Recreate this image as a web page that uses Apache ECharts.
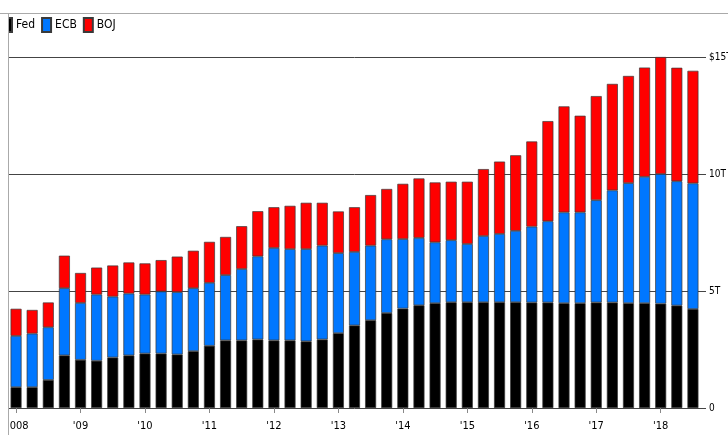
<!DOCTYPE html>
<html>
<head>
<meta charset="utf-8">
<script src="https://cdn.jsdelivr.net/npm/echarts@6/dist/echarts.min.js"></script>
<style>
html,body{margin:0;padding:0;background:#fff;}
#chart{width:728px;height:435px;}
</style>
</head>
<body>
<div id="chart"></div>
<script>
// Quarterly central-bank balance sheets, trillions of dollars
const categories = [
  '2008 Q1','2008 Q2','2008 Q3','2008 Q4',
  '2009 Q1','2009 Q2','2009 Q3','2009 Q4',
  '2010 Q1','2010 Q2','2010 Q3','2010 Q4',
  '2011 Q1','2011 Q2','2011 Q3','2011 Q4',
  '2012 Q1','2012 Q2','2012 Q3','2012 Q4',
  '2013 Q1','2013 Q2','2013 Q3','2013 Q4',
  '2014 Q1','2014 Q2','2014 Q3','2014 Q4',
  '2015 Q1','2015 Q2','2015 Q3','2015 Q4',
  '2016 Q1','2016 Q2','2016 Q3','2016 Q4',
  '2017 Q1','2017 Q2','2017 Q3','2017 Q4',
  '2018 Q1','2018 Q2','2018 Q3'
];
const fed = [
  0.89, 0.89, 1.20, 2.25,
  2.06, 2.02, 2.16, 2.25,
  2.33, 2.33, 2.29, 2.43,
  2.66, 2.89, 2.89, 2.93,
  2.89, 2.89, 2.85, 2.93,
  3.20, 3.53, 3.75, 4.06,
  4.25, 4.39, 4.48, 4.52,
  4.52, 4.52, 4.52, 4.52,
  4.51, 4.51, 4.48, 4.48,
  4.51, 4.51, 4.48, 4.48,
  4.46, 4.38, 4.23
];
const ecb = [
  2.19, 2.29, 2.25, 2.87,
  2.43, 2.83, 2.60, 2.64,
  2.52, 2.65, 2.66, 2.69,
  2.69, 2.79, 3.05, 3.55,
  3.95, 3.90, 3.94, 4.01,
  3.42, 3.14, 3.19, 3.15,
  2.97, 2.88, 2.60, 2.65,
  2.49, 2.83, 2.92, 3.05,
  3.24, 3.47, 3.88, 3.88,
  4.37, 4.79, 5.13, 5.40,
  5.54, 5.31, 5.37
];
const boj = [
  1.16, 1.01, 1.06, 1.39,
  1.28, 1.15, 1.33, 1.33,
  1.33, 1.34, 1.52, 1.60,
  1.75, 1.63, 1.83, 1.93,
  1.74, 1.85, 1.98, 1.83,
  1.78, 1.91, 2.16, 2.15,
  2.36, 2.54, 2.56, 2.50,
  2.66, 2.86, 3.09, 3.23,
  3.64, 4.28, 4.53, 4.13,
  4.45, 4.55, 4.58, 4.67,
  5.00, 4.85, 4.81
];
const xTickLabels = ['2008', "'09", "'10", "'11", "'12", "'13", "'14", "'15", "'16", "'17", "'18"];
const yTickValues = [0, 5, 10, 15];
const yTickLabels = ['0', '5T', '10T', '$15T'];

const FONT = "'Liberation Sans Narrow', 'Arial Narrow', 'DejaVu Sans Condensed', 'Liberation Sans', sans-serif";

const chart = echarts.init(document.getElementById('chart'), null, {renderer: 'canvas'});

const barStyle = (color) => ({color: color, borderColor: '#3a3a3a', borderWidth: 0.7});

chart.setOption({
  animation: false,
  backgroundColor: '#fff',
  textStyle: {fontFamily: FONT},
  legend: {
    left: 2, top: 17, padding: 0,
    itemWidth: 9, itemHeight: 14, itemGap: 6,
    icon: 'rect',
    textStyle: {fontFamily: FONT, fontSize: 12, color: '#000', padding: [0, 0, 0, -1]},
    data: ['Fed', 'ECB', 'BOJ']
  },
  grid: {left: 8, right: 27, top: 57, bottom: 27, containLabel: false, outerBoundsMode: 'none'},
  xAxis: {
    type: 'category',
    data: categories,
    boundaryGap: true,
    axisLine: {show: false},
    axisTick: {
      show: true, alignWithLabel: true, length: 5,
      interval: (i) => i % 4 === 0,
      lineStyle: {color: '#888', width: 1}
    },
    axisLabel: {
      interval: (i) => i % 4 === 0,
      formatter: (v, i) => xTickLabels[i / 4] || '',
      margin: 13, hideOverlap: false,
      fontFamily: FONT, fontSize: 11, color: '#000'
    },
    splitLine: {show: false}
  },
  yAxis: {
    type: 'value',
    position: 'right',
    min: 0, max: 15, interval: 5,
    axisLine: {show: false},
    axisTick: {show: true, length: 5, lineStyle: {color: '#444', width: 1}},
    axisLabel: {
      margin: 8,
      fontFamily: FONT, fontSize: 10, color: '#000',
      formatter: (v) => { const k = yTickValues.indexOf(v); return k >= 0 ? yTickLabels[k] : ''; }
    },
    splitLine: {show: true, lineStyle: {color: '#444', width: 1}}
  },
  series: [
    {name: 'Fed', type: 'bar', stack: 'cb', data: fed, barWidth: 11, itemStyle: barStyle('#000000')},
    {name: 'ECB', type: 'bar', stack: 'cb', data: ecb, barWidth: 11, itemStyle: barStyle('#0077ff')},
    {name: 'BOJ', type: 'bar', stack: 'cb', data: boj, barWidth: 11, itemStyle: barStyle('#ff0000')}
  ],
  graphic: [
    {type: 'rect', z: 100, silent: true, shape: {x: 0, y: 14, width: 8, height: 421}, style: {fill: '#fff'}},
    {type: 'line', z: 101, silent: true, shape: {x1: 0, y1: 13.5, x2: 728, y2: 13.5}, style: {stroke: '#aaa', lineWidth: 1}},
    {type: 'line', z: 101, silent: true, shape: {x1: 8.5, y1: 13.5, x2: 8.5, y2: 435}, style: {stroke: '#aaa', lineWidth: 1}}
  ]
});
</script>
</body>
</html>
